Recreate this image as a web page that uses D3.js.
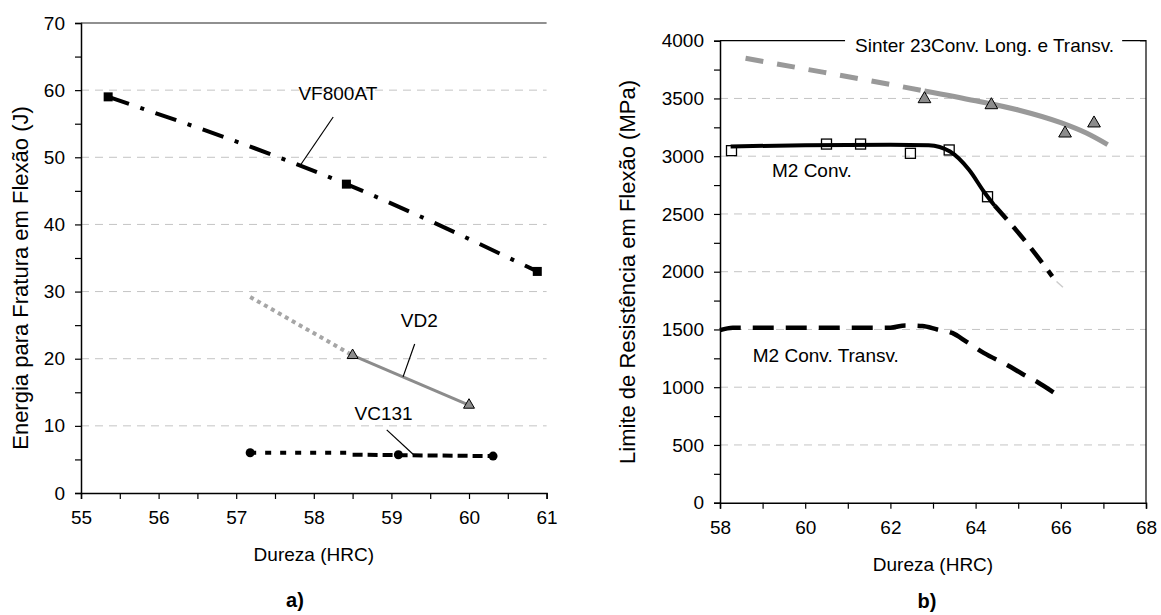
<!DOCTYPE html>
<html>
<head>
<meta charset="utf-8">
<script src="https://cdn.jsdelivr.net/npm/d3@7"></script>
<style>
  body { margin: 0; background: #fff; }
  svg text { font-family: "Liberation Sans", Arial, sans-serif; fill: #000; }
</style>
</head>
<body>
<svg id="chart" width="1161" height="615"></svg>
<script>
'use strict'

// ---- panel a) energia x dureza ----
const vf800Points = [[55.35, 59], [58.42, 46], [60.88, 33]]
const vd2Points = [[58.5, 20.5], [60.0, 13.1]]
const vd2Extrap = [[57.18, 29.2], [58.5, 20.5]]
const vc131Points = [[57.18, 6.0], [59.09, 5.7], [60.31, 5.5]]
const vc131FitA = [[57.18, 6.0], [58.5, 6.0]]
const vc131FitB = [[58.5, 5.7], [60.31, 5.5]]
const aXTicks = [55, 56, 57, 58, 59, 60, 61]
const aYTicks = [0, 10, 20, 30, 40, 50, 60, 70]

// ---- panel b) limite de resistencia x dureza ----
const m2ConvPoints = [[58.27, 3048], [60.5, 3105], [61.3, 3105], [62.47, 3025], [63.38, 3054], [64.28, 2649]]
const m2ConvFit = [[58.25, 3085], [60, 3095], [62, 3100], [62.9, 3095], [63.4, 3040], [63.85, 2880], [64.2, 2690], [64.45, 2570]]
const m2ConvExtrap = [[64.45, 2570], [65.2, 2250], [65.8, 1960]]
const m2ConvTail = [[65.9, 1915], [66.05, 1865]]
const m2TransvFit = [[58.0, 1494], [58.3, 1515], [62.0, 1515], [62.35, 1535], [62.75, 1530], [63.1, 1500], [63.45, 1470],
  [63.8, 1390], [64.2, 1295], [64.75, 1190], [65.1, 1115], [65.45, 1045], [65.85, 950]]
const sinterPoints = [[62.8, 3495], [64.37, 3443], [66.1, 3198], [66.78, 3285]]
const sinterExtrap = [[58.6, 3848], [60, 3755], [61.5, 3655], [62.8, 3565]]
const sinterFit = [[62.8, 3565], [64, 3480], [65, 3400], [66, 3290], [66.6, 3200], [67.1, 3100]]
const bXTicks = [58, 60, 62, 64, 66, 68]
const bYTicks = [0, 500, 1000, 1500, 2000, 2500, 3000, 3500, 4000]

const svg = d3.select('#chart')
const FS = '19px'
const TITLE_FS = '22px'
const gridColor = '#c4c4c4'

function drawAxes(x, y, xMajor, yMajor, xMinorStep, yMinorStep) {
  let x0 = x.range()[0], x1 = x.range()[1]
  let y0 = y.range()[0]
  let g = svg.append('g')

  // grid
  g.selectAll('.grid').data(yMajor.slice(1, -1)).enter().append('line')
    .attr('x1', x0).attr('x2', x1)
    .attr('y1', d => y(d)).attr('y2', d => y(d))
    .attr('stroke', gridColor).attr('stroke-width', 1).attr('stroke-dasharray', '8,6')

  let xMinor = d3.range(x.domain()[0], x.domain()[1] + 1e-9, xMinorStep)
  let yMinor = d3.range(y.domain()[0], y.domain()[1] + 1e-9, yMinorStep)

  g.append('g').attr('transform', 'translate(0,' + y0 + ')')
    .call(d3.axisBottom(x).tickValues(xMinor).tickSize(6).tickPadding(12)
      .tickFormat(d => xMajor.some(m => Math.abs(m - d) < 1e-6) ? d : ''))
    .call(a => a.select('.domain').attr('stroke-width', 1.5))
    .call(a => a.selectAll('.tick line').attr('stroke-width', 1.2))
    .call(a => a.selectAll('text').style('font-size', FS))

  g.append('g').attr('transform', 'translate(' + x0 + ',0)')
    .call(d3.axisLeft(y).tickValues(yMinor).tickSize(6).tickPadding(10)
      .tickFormat(d => yMajor.some(m => Math.abs(m - d) < 1e-6) ? d : ''))
    .call(a => a.select('.domain').attr('stroke-width', 1.5))
    .call(a => a.selectAll('.tick line').attr('stroke-width', 1.2))
    .call(a => a.selectAll('text').style('font-size', FS))
  return g
}

function path(x, y, pts, curve) {
  return d3.line().x(d => x(d[0])).y(d => y(d[1])).curve(curve || d3.curveLinear)(pts)
}

// ================= panel a =================
const xa = d3.scaleLinear().domain([55, 61]).range([81, 546.6])
const ya = d3.scaleLinear().domain([0, 70]).range([493, 23])
drawAxes(xa, ya, aXTicks, aYTicks, 0.5, 5)

// top frame line
svg.append('line').attr('x1', xa(55)).attr('x2', xa(61)).attr('y1', ya(70)).attr('y2', ya(70))
  .attr('stroke', '#222').attr('stroke-width', 1.2)

// VF800AT
svg.append('path').attr('d', path(xa, ya, vf800Points, d3.curveMonotoneX))
  .attr('fill', 'none').attr('stroke', '#000').attr('stroke-width', 4)
  .attr('stroke-dasharray', '22,12,4,12')
svg.selectAll('.sqA').data(vf800Points).enter().append('rect')
  .attr('x', d => xa(d[0]) - 4.5).attr('y', d => ya(d[1]) - 4.5)
  .attr('width', 9).attr('height', 9).attr('fill', '#000')

// VD2
svg.append('path').attr('d', path(xa, ya, vd2Extrap))
  .attr('fill', 'none').attr('stroke', '#a6a6a6').attr('stroke-width', 4)
  .attr('stroke-dasharray', '4,4')
svg.append('path').attr('d', path(xa, ya, vd2Points))
  .attr('fill', 'none').attr('stroke', '#8c8c8c').attr('stroke-width', 3)
svg.selectAll('.triA').data(vd2Points).enter().append('path')
  .attr('d', d3.symbol(d3.symbolTriangle).size(52))
  .attr('transform', d => 'translate(' + xa(d[0]) + ',' + ya(d[1]) + ')')
  .attr('fill', '#8c8c8c').attr('stroke', '#000').attr('stroke-width', 1)

// VC131
svg.append('path').attr('d', path(xa, ya, vc131FitA))
  .attr('fill', 'none').attr('stroke', '#000').attr('stroke-width', 4)
  .attr('stroke-dasharray', '6,9')
svg.append('path').attr('d', path(xa, ya, vc131FitB))
  .attr('fill', 'none').attr('stroke', '#000').attr('stroke-width', 4)
  .attr('stroke-dasharray', '10,5')
svg.selectAll('.cirA').data(vc131Points).enter().append('circle')
  .attr('cx', d => xa(d[0])).attr('cy', d => ya(d[1])).attr('r', 4.5).attr('fill', '#000')

// labels + leaders
const aLabels = [
  { t: 'VF800AT', x: 58.31, y: 58.5, l: [[58.25, 56.0], [57.82, 48.7]] },
  { t: 'VD2', x: 59.36, y: 24.7, l: [[59.30, 22.2], [59.15, 17.3]] },
  { t: 'VC131', x: 58.9, y: 10.9, l: [[58.94, 9.4], [59.29, 5.66]] }
]
aLabels.forEach(function (a) {
  svg.append('text').text(a.t).attr('x', xa(a.x)).attr('y', ya(a.y))
    .attr('text-anchor', 'middle').style('font-size', FS)
  svg.append('path').attr('d', path(xa, ya, a.l)).attr('stroke', '#000').attr('stroke-width', 1.2)
})

svg.append('text').text('Dureza (HRC)').attr('x', (xa(55) + xa(61)) / 2).attr('y', 561)
  .attr('text-anchor', 'middle').style('font-size', FS)
svg.append('text').text('Energia para Fratura em Flexão (J)')
  .attr('transform', 'translate(28,278) rotate(-90)')
  .attr('text-anchor', 'middle').style('font-size', TITLE_FS)
svg.append('text').text('a)').attr('x', 295).attr('y', 607)
  .attr('text-anchor', 'middle').style('font-size', '20px').style('font-weight', 'bold')

// ================= panel b =================
const xb = d3.scaleLinear().domain([58, 68]).range([720, 1146])
const yb = d3.scaleLinear().domain([0, 4000]).range([502.7, 40.7])
drawAxes(xb, yb, bXTicks, bYTicks, 1, 250)

// frame: top + right
svg.append('path')
  .attr('d', 'M' + xb(58) + ',' + yb(4000) + 'H' + xb(68) + 'V' + yb(0))
  .attr('fill', 'none').attr('stroke', '#000').attr('stroke-width', 1.2)

// Sinter 23
svg.append('path').attr('d', path(xb, yb, sinterExtrap, d3.curveMonotoneX))
  .attr('fill', 'none').attr('stroke', '#999').attr('stroke-width', 5)
  .attr('stroke-dasharray', '18,14')
svg.append('path').attr('d', path(xb, yb, sinterFit, d3.curveMonotoneX))
  .attr('fill', 'none').attr('stroke', '#999').attr('stroke-width', 5)
svg.selectAll('.triB').data(sinterPoints).enter().append('path')
  .attr('d', d3.symbol(d3.symbolTriangle).size(70))
  .attr('transform', d => 'translate(' + xb(d[0]) + ',' + yb(d[1]) + ')')
  .attr('fill', '#8c8c8c').attr('stroke', '#000').attr('stroke-width', 1)

// M2 Conv.
svg.append('path').attr('d', path(xb, yb, m2ConvFit, d3.curveMonotoneX))
  .attr('fill', 'none').attr('stroke', '#000').attr('stroke-width', 4)
svg.append('path').attr('d', path(xb, yb, m2ConvExtrap, d3.curveMonotoneX))
  .attr('fill', 'none').attr('stroke', '#000').attr('stroke-width', 4.5)
  .attr('stroke-dasharray', '18,10')
svg.append('path').attr('d', path(xb, yb, m2ConvTail))
  .attr('fill', 'none').attr('stroke', '#ccc').attr('stroke-width', 1.5)
svg.selectAll('.sqB').data(m2ConvPoints).enter().append('rect')
  .attr('x', d => xb(d[0]) - 5).attr('y', d => yb(d[1]) - 5)
  .attr('width', 10).attr('height', 10)
  .attr('fill', 'none').attr('stroke', '#000').attr('stroke-width', 1.3)

// M2 Conv. Transv.
svg.append('path').attr('d', path(xb, yb, m2TransvFit, d3.curveMonotoneX))
  .attr('fill', 'none').attr('stroke', '#000').attr('stroke-width', 4.5)
  .attr('stroke-dasharray', '21,12')

// labels
let sinterBox = svg.append('rect').attr('fill', '#fff')
let sinterLbl = svg.append('text').text('Sinter 23Conv. Long. e Transv.')
  .attr('x', xb(61.17)).attr('y', yb(3901)).style('font-size', FS)
let bb = sinterLbl.node().getBBox()
sinterBox.attr('x', bb.x - 10).attr('y', bb.y - 6)
  .attr('width', bb.width + 18).attr('height', bb.height + 4)
svg.append('line').attr('x1', xb(68) - 6).attr('x2', xb(68)).attr('y1', yb(4000)).attr('y2', yb(4000))
  .attr('stroke', '#000').attr('stroke-width', 1.2)
svg.append('text').text('M2 Conv.').attr('x', xb(59.22)).attr('y', yb(2820)).style('font-size', FS)
svg.append('text').text('M2 Conv. Transv.').attr('x', xb(58.77)).attr('y', yb(1218)).style('font-size', FS)

svg.append('text').text('Dureza (HRC)').attr('x', (xb(58) + xb(68)) / 2).attr('y', 571)
  .attr('text-anchor', 'middle').style('font-size', FS)
svg.append('text').text('Limite de Resistência em Flexão (MPa)')
  .attr('transform', 'translate(635,272) rotate(-90)')
  .attr('text-anchor', 'middle').style('font-size', TITLE_FS)
svg.append('text').text('b)').attr('x', 927).attr('y', 608)
  .attr('text-anchor', 'middle').style('font-size', '20px').style('font-weight', 'bold')
</script>
</body>
</html>
